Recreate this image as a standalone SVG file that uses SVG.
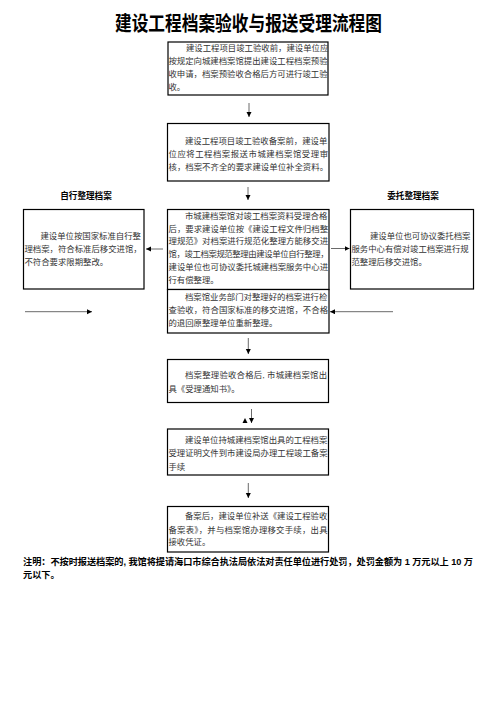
<svg xmlns="http://www.w3.org/2000/svg" width="496" height="702" viewBox="0 0 496 702">
<style>
.box{fill:#fff;stroke:#000;stroke-width:1.2}
.t{font-family:"Liberation Serif","Noto Sans CJK SC",serif;font-size:8.4px;fill:#333}
.lab{font-family:"Liberation Sans","Noto Sans CJK SC",sans-serif;font-size:8.6px;font-weight:bold;fill:#000;text-anchor:middle}
.title{font-family:"Liberation Sans","Noto Sans CJK SC",sans-serif;font-size:20px;font-weight:bold;fill:#000}
.note{font-family:"Liberation Sans","Noto Sans CJK SC",sans-serif;font-size:9.2px;font-weight:bold;fill:#000}
.c{stroke:#444;stroke-width:0.8;fill:none;marker-end:url(#ah)}
</style>
<defs>
<marker id="ah" markerUnits="userSpaceOnUse" markerWidth="6" markerHeight="6" refX="5" refY="2.5" orient="auto">
<path d="M0,0 L5,2.5 L0,5 Z" fill="#000"/>
</marker>
</defs>
<rect width="496" height="702" fill="#fff"/>
<text class="title" x="115" y="31" textLength="267" lengthAdjust="spacingAndGlyphs">建设工程档案验收与报送受理流程图</text>

<g id="n1">
<rect class="box" x="168" y="42" width="160" height="53"/>
<text class="t" x="186" y="51">建设工程项目竣工验收前，建设单位应</text>
<text class="t" x="168.5" y="64" textLength="159">按规定向城建档案馆提出建设工程档案预验</text>
<text class="t" x="168.5" y="77" textLength="159">收申请，档案预验收合格后方可进行竣工验</text>
<text class="t" x="168.5" y="90">收。</text>
</g>

<g id="n2">
<rect class="box" x="167.5" y="123.5" width="161.5" height="57.5"/>
<text class="t" x="185" y="144">建设工程项目竣工验收备案前，建设单</text>
<text class="t" x="168.5" y="156.8" textLength="159.5">位应将工程档案报送市城建档案馆受理审</text>
<text class="t" x="168.5" y="169.5" textLength="159.5">核，档案不齐全的要求建设单位补全资料。</text>
</g>

<text class="lab" x="86" y="199">自行整理档案</text>
<text class="lab" x="413" y="199">委托整理档案</text>

<g id="n3">
<rect class="box" x="23.5" y="209.5" width="120.5" height="79.5"/>
<text class="t" x="40.5" y="238.5">建设单位按国家标准自行整</text>
<text class="t" x="24.5" y="251.5">理档案，符合标准后移交进馆，</text>
<text class="t" x="24.5" y="264.5">不符合要求限期整改。</text>
</g>

<g id="n4">
<rect class="box" x="167.5" y="209.5" width="161.5" height="80"/>
<text class="t" x="185" y="219">市城建档案馆对竣工档案资料受理合格</text>
<text class="t" x="168.5" y="231.7" textLength="159.5">后，要求建设单位按《建设工程文件归档整</text>
<text class="t" x="168.5" y="244.4" textLength="159.5">理规范》对档案进行规范化整理方能移交进</text>
<text class="t" x="168.5" y="257.3" textLength="160">馆，竣工档案规范整理由建设单位自行整理，</text>
<text class="t" x="168.5" y="270" textLength="159.5">建设单位也可协议委托城建档案服务中心进</text>
<text class="t" x="168.5" y="283">行有偿整理。</text>
</g>

<g id="n5">
<rect class="box" x="167.5" y="289.5" width="161.5" height="43.5"/>
<text class="t" x="185" y="299.5">档案馆业务部门对整理好的档案进行检</text>
<text class="t" x="168.5" y="313" textLength="159.5">查验收，符合国家标准的移交进馆，不合格</text>
<text class="t" x="168.5" y="326">的退回原整理单位重新整理。</text>
</g>

<g id="n6">
<rect class="box" x="350.5" y="209.5" width="123" height="79.5"/>
<text class="t" x="370" y="238.5">建设单位也可协议委托档案</text>
<text class="t" x="351.5" y="251.5">服务中心有偿对竣工档案进行规</text>
<text class="t" x="351.5" y="264.5">范整理后移交进馆。</text>
</g>

<g id="n7">
<rect class="box" x="167.5" y="359.5" width="161" height="43"/>
<text class="t" x="185" y="378.3" textLength="142">档案整理验收合格后, 市城建档案馆出</text>
<text class="t" x="168.5" y="391.6">具《受理通知书》。</text>
</g>

<g id="n8">
<rect class="box" x="167.5" y="429" width="161" height="46"/>
<text class="t" x="185" y="442.5">建设单位持城建档案馆出具的工程档案</text>
<text class="t" x="168.5" y="456" textLength="159">受理证明文件到市建设局办理工程竣工备案</text>
<text class="t" x="168.5" y="469.5">手续</text>
</g>

<g id="n9">
<rect class="box" x="167.5" y="506.5" width="161" height="45.5"/>
<text class="t" x="185" y="519.3">备案后，建设单位补送《建设工程验收</text>
<text class="t" x="168.5" y="532.6" textLength="159">备案表》，并与档案馆办理移交手续，出具</text>
<text class="t" x="168.5" y="545">接收凭证。</text>
</g>

<g id="connectors">
<line class="c" x1="249" y1="103" x2="249" y2="117"/>
<line class="c" x1="248" y1="187" x2="248" y2="200"/>
<line class="c" x1="163" y1="249" x2="146" y2="249"/>
<line class="c" x1="331" y1="248.5" x2="349.5" y2="248.5"/>
<line class="c" x1="25" y1="311.7" x2="92" y2="311.7"/>
<line class="c" x1="393" y1="311.7" x2="330" y2="311.7"/>
<line class="c" x1="248.3" y1="338" x2="248.3" y2="354"/>
<line class="c" x1="251.5" y1="409" x2="251.5" y2="423"/>
<path d="M245,418 L247.5,423 L242.5,423 Z" fill="#000"/>
<line class="c" x1="248.3" y1="483" x2="248.3" y2="498"/>
</g>

<text class="note" x="23" y="565" textLength="450">注明：不按时报送档案的, 我馆将提请海口市综合执法局依法对责任单位进行处罚，处罚金额为 1 万元以上 10 万</text>
<text class="note" x="23" y="577.5">元以下。</text>
</svg>
